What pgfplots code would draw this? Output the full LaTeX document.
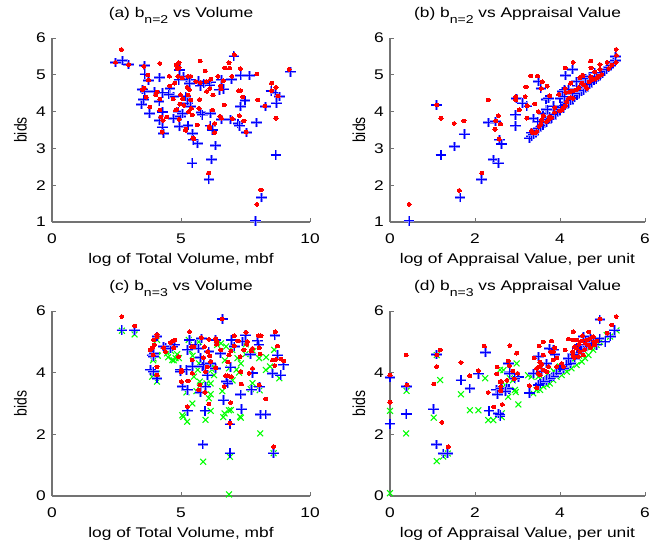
\documentclass[border=0pt]{standalone}
\usepackage{pgfplots}
\pgfplotsset{compat=1.18}
\usepackage{graphicx}
\usepackage{fontspec}
\setmainfont{Liberation Sans}[FakeStretch=1.24]
\newfontfamily\nsfont{Liberation Sans}
\definecolor{mred}{rgb}{1,0,0}
\definecolor{mblue}{rgb}{0,0,1}
\definecolor{bhalo}{rgb}{0.55,0.55,1}
\definecolor{mgreen}{rgb}{0,1,0}
\definecolor{axgray}{rgb}{0.45,0.45,0.45}
\newcommand{\sub}[1]{\raisebox{-4.5pt}{\fontsize{8.5}{9}\selectfont #1}}
\newcommand{\mfont}{\fontsize{10.5}{12.6}\selectfont}
\pgfdeclareplotmark{bplus}{%
  \pgfsetlinewidth{2.0pt}\pgfsetstrokecolor{bhalo}%
  \pgfpathmoveto{\pgfqpoint{-1.15\pgfplotmarksize}{0pt}}\pgfpathlineto{\pgfqpoint{1.15\pgfplotmarksize}{0pt}}%
  \pgfpathmoveto{\pgfqpoint{0pt}{-\pgfplotmarksize}}\pgfpathlineto{\pgfqpoint{0pt}{\pgfplotmarksize}}%
  \pgfusepathqstroke
  \pgfsetlinewidth{0.8pt}\pgfsetstrokecolor{mblue}%
  \pgfpathmoveto{\pgfqpoint{-1.15\pgfplotmarksize}{0pt}}\pgfpathlineto{\pgfqpoint{1.15\pgfplotmarksize}{0pt}}%
  \pgfpathmoveto{\pgfqpoint{0pt}{-\pgfplotmarksize}}\pgfpathlineto{\pgfqpoint{0pt}{\pgfplotmarksize}}%
  \pgfusepathqstroke
}
\pgfplotsset{
 every axis title shift=0pt,
 mstyle/.style={
  scale only axis, axis lines*=left, clip=false,
  axis line style={draw=axgray, line width=0.8pt},
  tick style={draw=axgray, line width=0.6pt}, tick align=inside, major tick length=3pt,
  /pgf/number format/assume math mode=true,
  tick label style={font=\mfont, text=black},
  xticklabel style={anchor=base, yshift=-15.75pt, inner sep=0pt},
  yticklabel style={anchor=east, inner sep=0pt, xshift=-4.5pt},
  title style={font=\mfont, at={(axis description cs:0.5,1)}, anchor=base, yshift=15.75pt, inner sep=0pt},
  xlabel style={font=\mfont, at={(axis description cs:0.5,0)}, anchor=base, yshift=-30.75pt, inner sep=0pt},
  ylabel style={font=\mfont, at={(axis description cs:-0.122,0.5)}, anchor=center, inner sep=0pt},
  ylabel={\scalebox{1}[1.24]{\nsfont\mfont bids}},
 },
 redpts/.style={only marks, color=mred, mark=*, mark size=1.35pt, mark options={draw=mred, fill=mred, line width=0pt, xscale=1.15}},
 bluepts/.style={only marks, color=mblue, mark=bplus, mark size=3.5pt},
 greenpts/.style={only marks, color=mgreen, mark=x, mark size=3.1pt, mark options={draw=mgreen, line width=0.8pt}},
}
\begin{document}
\begin{tikzpicture}
% ---------------- (a)
\begin{axis}[mstyle, at={(39pt,243.75pt)}, anchor=south west, width=193.5pt, height=138pt,
 xmin=0, xmax=10, ymin=1, ymax=6, xtick={0,5,10}, ytick={1,2,3,4,5,6},
 title={(a) b\sub{n=2} vs Volume}, xlabel={log of Total Volume, mbf}]
\addplot[bluepts] table {
2.46 5.34
2.72 5.38
2.96 5.28
3.58 5.26
3.60 5.02
3.75 4.85
3.50 4.60
3.60 4.54
3.47 4.20
3.56 4.32
3.78 3.95
3.98 4.54
4.17 4.93
4.27 4.51
4.15 4.27
4.27 3.99
4.17 3.75
4.27 3.58
4.33 3.41
4.57 4.63
4.71 4.41
4.53 4.47
4.93 5.13
4.92 4.86
4.72 3.81
4.89 4.00
4.94 3.59
4.98 3.86
5.07 3.95
5.10 4.95
5.21 4.87
5.34 4.86
5.34 4.77
5.19 4.41
5.24 4.23
5.38 4.14
5.27 3.63
5.44 3.40
5.63 3.13
5.47 3.23
5.43 2.60
5.68 4.83
5.76 4.70
5.89 4.77
5.77 3.97
5.82 3.91
6.15 4.80
6.12 4.72
6.15 3.95
6.13 3.61
6.18 2.69
6.08 2.15
6.34 3.08
6.21 3.50
6.49 4.59
6.66 4.61
6.56 4.86
6.58 3.78
6.92 3.78
6.97 4.88
7.05 5.51
7.21 3.67
7.28 3.61
7.31 4.14
7.48 4.30
7.54 3.43
7.32 4.99
7.65 4.99
7.93 3.70
7.90 1.03
8.12 1.66
8.28 4.14
8.49 4.56
8.65 4.51
8.70 4.23
8.81 4.41
8.68 2.82
9.24 5.08
};
\addplot[redpts] table {
2.46 5.34
2.69 5.69
2.97 5.28
3.56 5.23
3.71 4.99
3.74 4.86
3.50 4.60
3.58 4.64
3.65 4.39
3.79 4.12
4.02 4.45
4.07 4.53
4.18 5.31
4.18 4.34
4.18 4.04
4.22 3.85
4.30 3.76
4.27 3.44
4.44 3.85
4.57 4.70
4.55 4.96
4.70 4.34
4.81 5.26
4.85 5.17
4.92 5.33
4.92 5.19
4.88 4.96
4.75 4.77
4.79 4.04
5.05 4.91
5.06 4.35
4.98 4.46
4.83 4.06
4.95 4.20
4.93 3.79
5.11 4.17
5.19 3.52
5.18 3.49
5.27 4.96
5.37 4.96
5.24 4.66
5.32 4.60
5.28 4.45
5.37 4.32
5.40 4.09
5.30 4.00
5.43 3.91
5.46 3.28
5.50 3.26
5.74 5.37
5.58 4.82
5.74 4.79
5.72 4.33
5.70 4.09
5.63 3.64
5.94 5.10
5.98 4.82
5.99 4.55
6.15 4.88
6.12 4.63
6.24 4.45
6.10 3.60
6.12 3.55
6.22 4.04
6.30 3.43
6.30 3.68
6.07 2.33
6.43 4.96
6.51 3.87
6.57 3.82
6.54 4.70
6.55 4.61
6.64 4.84
6.69 5.19
6.68 4.18
6.86 5.33
6.88 5.18
6.97 4.96
6.99 3.81
7.06 5.55
7.23 4.57
7.31 4.57
7.30 5.17
7.26 3.89
7.44 3.75
7.40 4.40
7.53 3.44
7.94 5.02
7.98 4.32
7.94 1.48
8.10 1.87
8.25 4.15
8.51 4.77
8.51 4.57
8.68 4.66
8.76 4.42
8.68 3.82
9.19 5.15
};
\end{axis}
% ---------------- (b)
\begin{axis}[mstyle, at={(292.5pt,243.75pt)}, anchor=south west, width=191.25pt, height=138pt,
 xmin=0, xmax=6, ymin=1, ymax=6, xtick={0,2,4,6}, ytick={1,2,3,4,5,6},
 title={(b) b\sub{n=2} vs Appraisal Value}, xlabel={log of Appraisal Value, per unit}]
\addplot[bluepts] table {
0.45 1.03
1.10 4.18
1.20 2.82
1.51 3.05
1.76 3.39
1.65 1.66
2.16 2.15
2.31 3.70
2.49 3.73
2.58 3.23
2.63 3.12
2.43 2.69
2.56 2.60
2.98 4.36
2.95 3.91
2.95 3.61
3.22 4.15
3.12 4.23
3.37 3.82
3.33 3.32
3.49 4.81
3.55 4.63
3.67 4.32
3.73 4.36
3.69 4.05
4.13 4.98
4.30 5.15
3.29 3.28
3.33 3.42
3.38 3.38
3.45 3.48
3.50 3.55
3.55 3.60
3.60 3.62
3.62 3.75
3.68 3.70
3.72 3.78
3.75 3.85
3.80 3.82
3.85 3.90
3.90 3.92
3.95 4.00
4.00 4.05
4.02 4.12
4.08 4.10
4.12 4.18
4.15 4.25
4.20 4.22
4.25 4.30
4.30 4.35
4.35 4.38
4.40 4.45
4.45 4.50
4.50 4.55
4.55 4.58
4.60 4.65
4.65 4.68
4.70 4.75
4.75 4.80
4.80 4.85
4.85 4.88
4.90 4.95
4.95 5.00
5.00 5.05
5.05 5.10
5.10 5.15
5.15 5.20
5.20 5.25
5.25 5.35
5.30 5.38
5.30 5.49
3.48 3.72
3.60 3.95
3.70 4.05
3.85 4.15
4.00 4.35
4.05 4.55
4.10 4.40
4.20 4.60
4.30 4.50
4.40 4.70
4.50 4.82
4.60 4.90
4.70 4.95
4.82 5.05
4.39 4.81
4.11 4.59
};
\addplot[redpts] table {
0.45 1.48
1.10 4.18
1.20 3.82
1.51 3.68
1.74 3.75
1.63 1.86
2.16 2.33
2.31 4.32
2.49 3.75
2.47 3.52
2.55 3.89
2.60 3.66
2.57 3.25
5.32 5.69
5.33 5.53
5.32 5.34
5.11 5.34
5.22 5.26
5.15 5.17
4.72 5.37
4.73 5.19
4.94 5.28
4.94 5.15
4.82 5.08
4.98 5.01
4.91 4.97
4.88 4.92
4.83 4.88
4.75 4.86
4.69 4.81
4.72 4.95
4.53 4.97
4.47 4.92
4.51 4.77
4.56 4.72
4.61 4.68
4.64 4.63
4.44 4.65
4.38 4.59
4.30 4.56
4.24 4.54
4.14 4.52
4.25 4.77
4.31 5.34
4.12 5.19
4.12 4.63
4.20 4.36
4.25 4.38
4.31 4.36
4.16 4.27
3.97 4.47
4.12 4.16
4.08 4.11
4.04 4.05
4.00 4.02
3.88 4.11
3.87 3.98
3.76 3.86
3.80 3.84
3.73 3.78
3.69 3.73
3.61 3.89
3.57 3.78
3.55 3.66
3.51 3.60
3.45 3.46
3.41 3.42
3.36 3.42
3.33 3.48
3.76 4.43
3.70 4.69
3.58 4.81
3.47 4.97
3.31 4.97
3.56 4.63
3.20 4.67
3.18 4.41
2.96 4.41
2.96 4.32
3.04 4.05
3.23 4.16
3.41 4.21
3.49 4.00
3.22 3.82
4.53 4.99
};
\end{axis}
% ---------------- (c)
\begin{axis}[mstyle, at={(39pt,38.25pt)}, anchor=south west, width=193.5pt, height=138.75pt,
 xmin=0, xmax=10, ymin=0, ymax=6, xtick={0,5,10}, ytick={0,2,4,6},
 title={(c) b\sub{n=3} vs Volume}, xlabel={log of Total Volume, mbf}]
\addplot[greenpts] table {
2.71 5.36
3.20 5.24
4.07 5.06
3.92 4.40
3.94 4.46
3.88 3.87
4.07 3.71
4.07 3.97
4.07 4.57
4.46 4.63
4.66 4.41
4.79 4.47
4.92 4.47
4.72 4.40
5.30 5.06
5.69 5.00
5.21 3.36
5.44 3.00
5.09 2.57
5.24 2.41
5.05 2.62
5.50 3.87
5.73 3.71
5.76 3.60
5.65 4.09
5.99 3.65
6.15 3.30
6.08 3.17
6.15 3.65
6.28 3.92
5.95 2.47
5.86 1.11
6.15 2.76
6.69 2.68
6.93 2.79
6.86 2.78
6.64 2.56
7.29 2.57
7.32 2.54
7.51 4.92
6.99 4.74
7.19 4.47
7.32 4.30
6.86 4.14
7.70 3.47
7.77 3.66
8.03 4.47
8.29 4.09
8.61 4.74
8.81 3.82
8.05 3.43
8.07 2.03
6.90 1.27
6.86 0.05
8.59 1.39
6.40 4.90
6.70 4.40
4.10 4.55
4.50 4.50
4.62 4.70
4.85 4.60
5.35 4.70
5.45 4.55
5.70 4.30
6.20 4.10
6.25 4.20
6.55 4.95
6.75 4.85
7.15 4.10
7.25 4.00
7.50 4.60
7.80 4.70
8.30 4.50
8.45 4.20
5.60 3.40
6.60 3.40
7.00 3.75
};
\addplot[bluepts] table {
2.71 5.38
3.20 5.38
4.07 5.17
3.88 4.57
3.94 4.52
3.81 4.09
3.92 4.03
4.07 3.82
3.95 4.62
4.40 4.81
4.66 4.84
4.33 4.84
4.59 4.79
4.75 4.90
4.98 4.03
5.05 3.55
4.98 4.09
5.21 4.09
5.24 3.44
5.33 5.06
5.24 4.74
5.44 4.19
5.24 2.76
5.56 4.90
5.69 4.79
5.79 5.11
5.75 4.49
5.83 4.19
5.89 4.25
6.02 3.92
5.95 3.54
5.76 3.36
5.93 2.76
5.85 1.68
6.08 4.68
6.15 4.30
6.60 5.74
6.34 5.06
6.54 4.63
6.34 4.14
6.95 5.06
7.06 4.84
7.38 5.01
7.51 5.22
7.97 5.03
8.02 4.90
7.70 4.60
6.77 3.71
6.64 3.11
7.32 3.30
7.34 2.82
7.73 3.44
8.03 3.54
8.09 2.65
8.29 2.65
6.90 2.33
6.90 1.39
8.64 5.20
8.74 4.57
8.55 3.98
8.87 3.92
8.98 4.25
8.59 1.39
6.82 3.64
6.92 4.18
7.77 3.99
};
\addplot[redpts] table {
2.71 5.82
3.20 5.52
4.07 5.24
4.07 5.17
3.94 5.06
3.97 4.90
3.88 4.81
3.81 4.74
3.92 4.57
4.07 4.19
4.07 3.92
4.33 4.81
4.40 4.68
4.59 4.98
4.70 5.03
4.75 5.06
4.72 4.81
4.91 4.52
5.02 4.09
5.01 4.03
5.01 3.71
5.27 3.73
5.24 2.90
5.33 5.33
5.44 4.41
5.41 4.84
5.50 4.84
5.44 3.98
5.79 5.14
5.91 4.84
6.04 4.68
6.08 5.08
5.86 4.49
6.12 4.55
6.02 4.19
5.95 4.03
5.73 3.60
5.69 3.44
5.93 3.36
6.08 2.98
6.34 5.11
6.38 5.00
6.15 4.36
6.60 5.74
6.38 4.92
6.54 4.74
6.34 4.16
7.06 5.20
7.21 5.03
7.06 4.87
6.93 4.70
6.86 4.57
6.82 4.34
7.44 4.74
7.29 4.52
7.52 5.31
7.57 5.01
7.55 4.92
7.77 4.79
7.73 4.70
8.00 5.20
8.10 5.20
8.03 4.81
8.07 4.60
7.77 4.14
7.64 3.98
7.32 4.03
6.82 3.90
6.95 3.87
6.73 3.90
6.67 3.55
6.93 3.03
7.34 3.63
8.03 3.60
8.29 3.15
6.90 2.36
8.65 5.33
8.74 4.86
8.55 4.41
8.68 4.43
8.87 4.44
8.98 4.38
8.64 4.23
8.59 1.60
};
\end{axis}
% ---------------- (d)
\begin{axis}[mstyle, at={(292.5pt,38.25pt)}, anchor=south west, width=191.25pt, height=138.75pt,
 xmin=0, xmax=6, ymin=0, ymax=6, xtick={0,2,4,6}, ytick={0,2,4,6},
 title={(d) b\sub{n=3} vs Appraisal Value}, xlabel={log of Appraisal Value, per unit}]
\addplot[greenpts] table {
0.00 0.09
0.00 2.76
0.39 3.41
0.38 2.03
1.10 4.57
1.18 3.76
1.03 2.54
1.10 1.13
1.25 1.28
1.36 1.38
1.67 3.30
1.88 2.78
2.08 2.78
2.24 3.82
2.31 2.46
2.43 2.46
2.55 2.63
2.59 4.09
2.67 4.08
3.02 2.97
2.96 3.37
2.89 3.75
5.33 5.37
5.18 5.17
5.10 5.22
4.94 5.00
4.86 4.90
4.78 4.74
4.67 4.57
4.59 4.47
4.51 4.36
4.39 4.25
4.27 4.14
4.16 4.03
4.04 3.92
3.92 3.87
3.84 3.76
3.76 3.65
3.69 3.60
3.61 3.55
3.53 3.44
3.45 3.44
3.37 3.33
4.31 4.41
4.12 4.14
3.96 4.03
3.33 3.87
3.49 3.87
3.25 3.92
2.98 4.30
2.82 3.82
2.71 3.60
2.94 3.44
2.78 3.22
2.63 2.68
2.63 2.56
3.60 3.80
3.70 3.95
3.85 4.05
4.00 4.20
4.20 4.35
4.45 4.55
4.70 4.80
};
\addplot[bluepts] table {
0.00 3.84
0.39 3.55
0.38 2.66
0.00 2.34
1.10 4.60
1.03 2.82
1.10 1.68
1.25 1.38
1.36 1.38
1.67 3.76
1.88 3.49
2.08 3.96
2.24 4.65
2.33 2.76
2.50 3.44
2.53 3.30
2.59 2.59
2.55 2.68
2.80 3.47
2.82 4.02
3.02 3.86
3.28 3.34
4.94 5.72
5.29 5.38
5.18 5.17
4.55 5.17
4.71 5.11
4.78 5.03
4.63 4.84
4.51 4.74
4.43 4.63
4.35 4.47
4.24 4.30
4.16 4.25
4.08 4.14
4.00 4.09
3.92 3.98
3.84 3.87
3.76 3.82
3.69 3.76
3.61 3.71
3.53 3.65
3.49 3.60
3.76 4.79
3.84 4.74
3.88 4.60
3.49 4.52
3.69 4.30
3.57 4.03
3.37 3.98
2.78 4.30
2.82 3.98
2.94 3.82
2.74 3.49
2.63 3.49
2.71 3.38
2.59 2.63
4.94 5.11
5.06 5.00
4.86 4.90
4.74 4.95
4.59 5.00
4.47 4.90
4.40 4.80
4.30 4.60
4.20 4.45
};
\addplot[redpts] table {
0.00 3.04
0.00 3.92
0.38 4.57
0.40 3.60
1.10 4.57
1.18 4.74
1.10 4.20
1.03 3.63
1.22 2.39
1.37 1.60
1.67 4.33
1.88 3.90
2.08 4.07
2.22 4.86
2.52 4.18
2.51 3.96
2.31 3.36
2.44 2.89
2.62 3.71
2.61 3.55
2.64 2.97
2.75 3.75
2.82 4.88
2.98 4.63
2.78 4.38
2.81 4.23
2.89 4.05
3.00 3.98
2.92 3.80
2.59 3.71
2.61 3.41
3.28 3.58
3.45 3.51
5.32 5.82
5.22 5.55
4.94 5.74
5.11 5.28
4.68 5.32
4.53 5.20
4.31 5.33
4.20 5.09
4.30 5.06
4.39 5.06
4.51 5.03
4.63 5.06
4.71 5.11
4.78 5.17
4.80 5.00
4.45 4.92
4.35 4.84
4.39 4.79
4.47 4.68
4.55 4.57
4.67 4.90
4.72 4.81
4.82 4.90
4.86 5.03
4.30 4.68
4.31 4.57
4.33 4.49
4.43 4.52
4.12 4.73
3.80 5.03
3.61 5.00
3.51 4.86
3.88 4.81
3.84 4.68
3.78 4.68
3.92 4.47
3.61 4.57
3.39 4.47
3.53 4.34
3.57 4.27
3.51 4.20
3.45 4.14
3.49 3.98
3.53 3.92
3.61 4.09
3.69 4.03
3.73 4.20
3.84 4.41
4.04 4.30
4.08 4.20
3.92 4.20
4.60 4.95
4.58 4.75
};
\end{axis}
\pgfresetboundingbox
\useasboundingbox (0,0) rectangle (486.75pt,410.25pt);
\end{tikzpicture}
\end{document}
